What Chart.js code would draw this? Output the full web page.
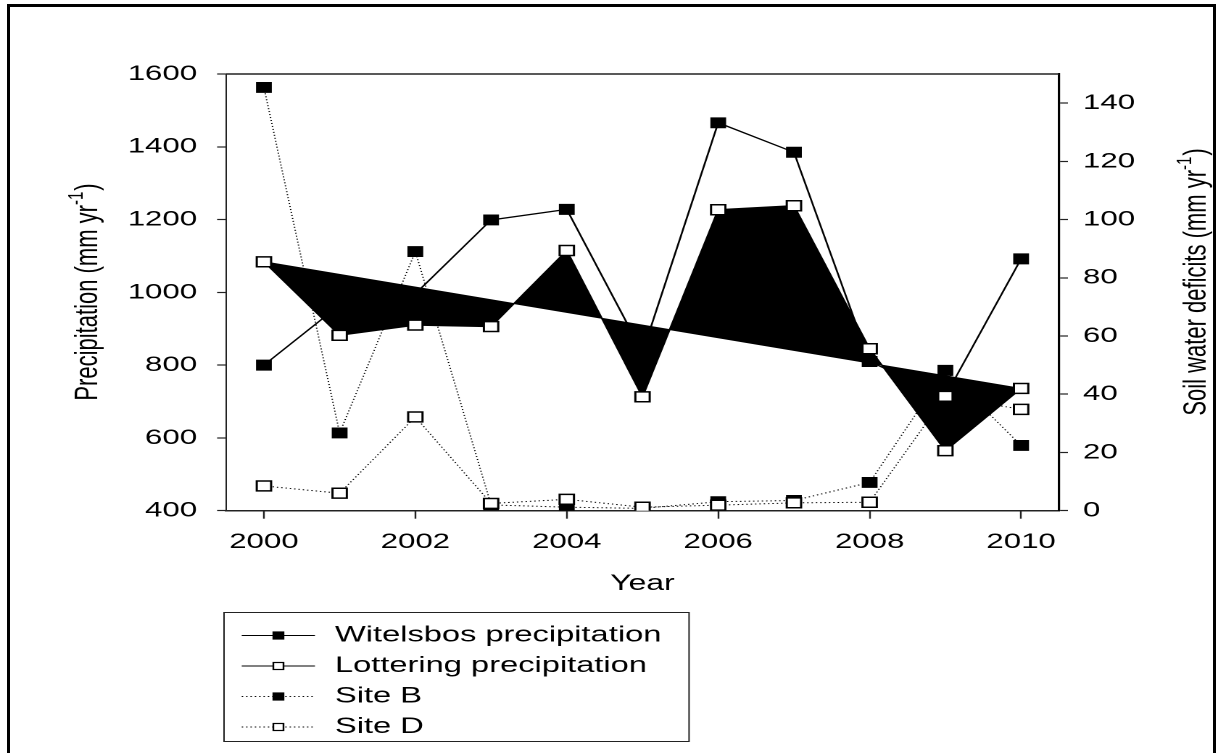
<!DOCTYPE html>
<html>
<head>
<meta charset="utf-8">
<title>Precipitation and soil water deficits</title>
<script src="https://cdn.jsdelivr.net/npm/chart.js@4.4.0/dist/chart.umd.min.js"></script>
<style>
  body { margin: 0; background: #fff; width: 1218px; height: 753px; overflow: hidden; position: relative; }
  /* the original figure is stretched sideways, so draw narrow and scale */
  #wrap { position: absolute; left: 0; top: 0; width: 840px; height: 753px; transform: scaleX(1.45); transform-origin: 0 0; }
  #frame { position: absolute; left: 7px; top: 4px; width: 1209px; height: 760px; border: 3px solid #000; border-bottom: none; box-sizing: border-box; }
</style>
</head>
<body>
<div id="wrap"><canvas id="myChart" width="840" height="753"></canvas></div>
<div id="frame"></div>
<script>
var years = [2000, 2001, 2002, 2003, 2004, 2005, 2006, 2007, 2008, 2009, 2010];
var witelsbos = [800, 965, 996, 1199, 1228, 835, 1466, 1385, 810, 715, 1092];
var lottering = [1084, 882, 910, 906, 1115, 713, 1227, 1238, 845, 565, 736];
var trendYears = [2000, 2010];
var trendValues = [1084, 736];
var siteB = [145.4, 26.7, 89.0, 2.0, 1.2, 0.8, 3.1, 3.5, 9.7, 48.2, 22.4];
var siteD = [8.5, 6.0, 32.2, 2.5, 3.9, 1.2, 1.9, 2.7, 2.9, 39.3, 34.8];
var xTicks = [2000, 2002, 2004, 2006, 2008, 2010];
var precipTicks = [400, 600, 800, 1000, 1200, 1400, 1600];
var deficitTicks = [0, 20, 40, 60, 80, 100, 120, 140];

var FONT = "'Liberation Sans', Arial, sans-serif";
Chart.defaults.font.family = FONT;
Chart.defaults.color = '#000';

function pts(xs, ys) {
	return xs.map(function(x, i) { return { x: x, y: ys[i] }; });
}

// top line of the plot box
var topLine = {
	id: 'topLine',
	afterDraw: function(chart) {
		var ctx = chart.ctx, a = chart.chartArea;
		ctx.save();
		ctx.strokeStyle = '#222';
		ctx.lineWidth = 1.5;
		ctx.beginPath();
		ctx.moveTo(a.left, a.top);
		ctx.lineTo(a.right, a.top);
		ctx.stroke();
		ctx.restore();
	}
};

// rotated axis title with a real superscript "-1"
function unitTitle(ctx, text, cx, cy) {
	var main = '22px ' + FONT, sup = '15px ' + FONT;
	ctx.save();
	ctx.translate(cx, cy);
	ctx.rotate(-Math.PI / 2);
	ctx.fillStyle = '#000';
	ctx.textBaseline = 'middle';
	ctx.textAlign = 'left';
	ctx.font = main;
	var w1 = ctx.measureText(text + ' (mm yr').width;
	var w3 = ctx.measureText(')').width;
	ctx.font = sup;
	var w2 = ctx.measureText('-1').width + 1;
	var x = -(w1 + w2 + w3) / 2;
	ctx.font = main;
	ctx.fillText(text + ' (mm yr', x, 0);
	ctx.font = sup;
	ctx.fillText('-1', x + w1, -8);
	ctx.font = main;
	ctx.fillText(')', x + w1 + w2, 0);
	ctx.restore();
}

var axisTitles = {
	id: 'axisTitles',
	afterDraw: function(chart) {
		unitTitle(chart.ctx, 'Precipitation', 60.7, 292);
		unitTitle(chart.ctx, 'Soil water deficits', 825.5, 282);
	}
};

// boxed legend under the plot
var boxLegend = {
	id: 'boxLegend',
	afterDraw: function(chart) {
		var ctx = chart.ctx;
		var items = chart.data.datasets.filter(function(d) { return d.label; });
		ctx.save();
		ctx.strokeStyle = '#222';
		ctx.lineWidth = 1;
		ctx.strokeRect(154.5, 612.5, 320.7, 129);
		ctx.font = '22.5px ' + FONT;
		ctx.textBaseline = 'middle';
		items.forEach(function(d, i) {
			var y = 635.5 + i * 30.5;
			ctx.strokeStyle = '#000';
			ctx.lineWidth = 1;
			ctx.setLineDash(d.borderDash || []);
			ctx.beginPath();
			ctx.moveTo(166.7, y);
			ctx.lineTo(217.2, y);
			ctx.stroke();
			ctx.setLineDash([]);
			ctx.fillStyle = d.pointBackgroundColor;
			ctx.fillRect(188.5, y - 3.5, 7, 7);
			ctx.lineWidth = 1.2;
			ctx.strokeRect(188.5, y - 3.5, 7, 7);
			ctx.fillStyle = '#000';
			ctx.fillText(d.label, 231, y);
		});
		ctx.restore();
	}
};

var ctx = document.getElementById('myChart').getContext('2d');
var chart = new Chart(ctx, {
	type: 'line',
	data: {
		datasets: [{
			label: 'Witelsbos precipitation',
			data: pts(years, witelsbos),
			yAxisID: 'y',
			borderColor: '#000',
			borderWidth: 1.3,
			pointStyle: 'rect',
			pointRadius: 7,
			pointBackgroundColor: '#000',
			pointBorderColor: '#000',
			pointBorderWidth: 1,
			order: 3
		}, {
			label: 'Lottering precipitation',
			data: pts(years, lottering),
			yAxisID: 'y',
			borderColor: '#000',
			borderWidth: 1.3,
			pointStyle: 'rect',
			pointRadius: 7,
			pointBackgroundColor: '#fff',
			pointBorderColor: '#000',
			pointBorderWidth: 1.5,
			order: 2
		}, {
			// straight line the black area is filled against
			label: '',
			data: pts(trendYears, trendValues),
			yAxisID: 'y',
			borderColor: '#000',
			borderWidth: 1,
			backgroundColor: '#000',
			pointRadius: 0,
			fill: 1,
			order: 4
		}, {
			label: 'Site B',
			data: pts(years, siteB),
			yAxisID: 'y1',
			borderColor: '#000',
			borderWidth: 1,
			borderDash: [1, 2],
			pointStyle: 'rect',
			pointRadius: 7,
			pointBackgroundColor: '#000',
			pointBorderColor: '#000',
			pointBorderWidth: 1,
			order: 5
		}, {
			label: 'Site D',
			data: pts(years, siteD),
			yAxisID: 'y1',
			borderColor: '#000',
			borderWidth: 1,
			borderDash: [1, 2],
			pointStyle: 'rect',
			pointRadius: 7,
			pointBackgroundColor: '#fff',
			pointBorderColor: '#000',
			pointBorderWidth: 1.5,
			order: 1
		}]
	},
	options: {
		responsive: false,
		devicePixelRatio: 2,
		animation: false,
		layout: { padding: { left: 0, right: 0, top: 74, bottom: 152.3 } },
		plugins: {
			legend: { display: false },
			tooltip: { enabled: false }
		},
		scales: {
			x: {
				type: 'linear',
				min: 1999.5,
				max: 2010.5,
				afterFit: function(s) { s.height = 90; },
				afterBuildTicks: function(s) { s.ticks = xTicks.map(function(v) { return { value: v }; }); },
				ticks: { font: { size: 21.5 }, padding: 10.5, callback: function(v) { return String(v); } },
				grid: { drawOnChartArea: false, tickLength: 8, tickColor: '#222', tickWidth: 1.2 },
				border: { color: '#222', width: 1.5 },
				title: { display: true, text: 'Year', font: { size: 22 }, padding: { top: 0, bottom: 3.5 } }
			},
			y: {
				position: 'left',
				min: 400,
				max: 1600,
				afterFit: function(s) { s.width = 155.9; },
				afterBuildTicks: function(s) { s.ticks = precipTicks.map(function(v) { return { value: v }; }); },
				ticks: { font: { size: 21.5 }, padding: 13.8, callback: function(v) { return String(v); } },
				grid: { drawOnChartArea: false, tickLength: 6.2, tickColor: '#222', tickWidth: 1.2 },
				border: { color: '#222', width: 1 }
			},
			y1: {
				position: 'right',
				min: 0,
				max: 150,
				afterFit: function(s) { s.width = 109.7; },
				afterBuildTicks: function(s) { s.ticks = deficitTicks.map(function(v) { return { value: v }; }); },
				ticks: { font: { size: 21.5 }, padding: 10.4, callback: function(v) { return String(v); } },
				grid: { drawOnChartArea: false, tickLength: 6.2, tickColor: '#222', tickWidth: 1.2 },
				border: { color: '#000', width: 1.6 }
			}
		}
	},
	plugins: [topLine, axisTitles, boxLegend]
});
</script>
</body>
</html>
